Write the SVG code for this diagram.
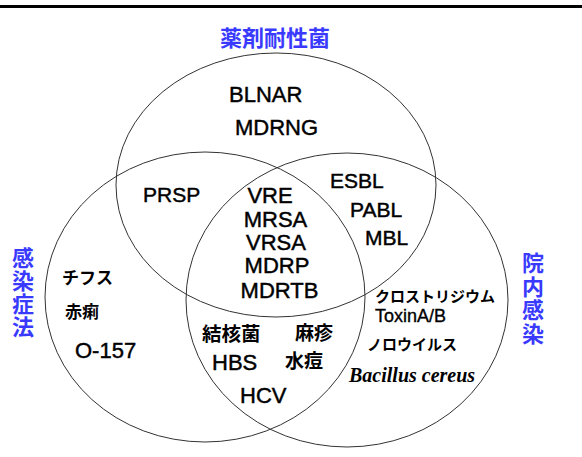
<svg xmlns="http://www.w3.org/2000/svg" width="582" height="457" viewBox="0 0 582 457">
<style>
.c{fill:none;stroke:#333;stroke-width:1}
.t{font-family:"Liberation Sans","Noto Sans CJK JP",sans-serif;font-size:22px;fill:#000;stroke:#000;stroke-width:0.45}
.j{font-family:"Noto Sans CJK JP",sans-serif;font-weight:bold;fill:#000}
.b{font-family:"Noto Sans CJK JP",sans-serif;font-weight:bold;font-size:22px;fill:#3a3aff}
.v{writing-mode:vertical-rl;letter-spacing:1px}
.m{text-anchor:middle}
.i{font-family:"Liberation Serif",serif;font-style:italic;font-weight:bold;font-size:20px;fill:#000}
</style>
<rect width="582" height="457" fill="#fff"/>
<line x1="0" y1="6.5" x2="582" y2="6.5" stroke="#000" stroke-width="3"/>
<g id="sets">
<ellipse id="set-drug" class="c" cx="276" cy="185" rx="160" ry="132"/>
<ellipse id="set-law" class="c" cx="205" cy="297" rx="160" ry="145"/>
<ellipse id="set-hosp" class="c" cx="347" cy="300" rx="161" ry="147"/>
</g>
<g id="label-drug"><text class="b m" x="275" y="46">薬剤耐性菌</text></g>
<g id="label-law"><text class="b v" x="23" y="247">感染症法</text></g>
<g id="label-hosp"><text class="b v" x="533" y="252" style="letter-spacing:1.5px">院内感染</text></g>
<g id="drug-only">
<text class="t" x="229" y="102">BLNAR</text>
<text class="t" x="235" y="135">MDRNG</text>
</g>
<g id="drug-law"><text class="t" x="143" y="202" style="font-size:21px">PRSP</text></g>
<g id="drug-hosp">
<text class="t" x="330" y="188" style="font-size:21px">ESBL</text>
<text class="t" x="350" y="217" style="font-size:21px">PABL</text>
<text class="t" x="365" y="245" style="font-size:21px">MBL</text>
</g>
<g id="all-three">
<text class="t m" x="270" y="203">VRE</text>
<text class="t m" x="275.5" y="227">MRSA</text>
<text class="t m" x="276" y="250">VRSA</text>
<text class="t m" x="277" y="273">MDRP</text>
<text class="t m" x="279.5" y="298">MDRTB</text>
</g>
<g id="law-only">
<text class="j" x="62" y="284" style="font-size:17px">チフス</text>
<text class="j" x="65" y="318" style="font-size:17px">赤痢</text>
<text class="t" x="75" y="358">O-157</text>
</g>
<g id="law-hosp">
<text class="j" x="202" y="341" style="font-size:19.5px">結核菌</text>
<text class="j" x="295" y="339.5" style="font-size:19px">麻疹</text>
<text class="t" x="212" y="370">HBS</text>
<text class="j" x="285" y="367.5" style="font-size:19px">水痘</text>
<text class="t" x="240" y="403">HCV</text>
</g>
<g id="hosp-only">
<text class="j" x="375" y="302" style="font-size:15px">クロストリジウム</text>
<text class="t" x="375" y="322" style="font-size:18px;stroke-width:0.35">ToxinA/B</text>
<text class="j" x="367" y="350" style="font-size:15px">ノロウイルス</text>
<text class="i" x="349" y="382">Bacillus cereus</text>
</g>
<g id="connectors"/>
</svg>
